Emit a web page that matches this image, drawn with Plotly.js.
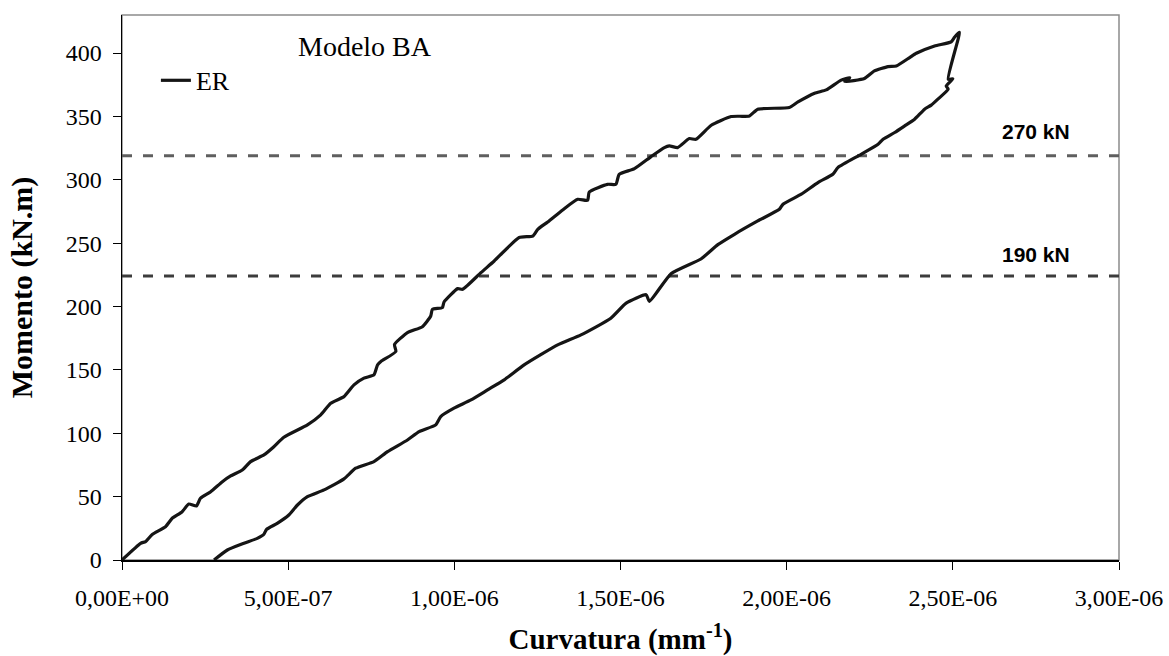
<!DOCTYPE html>
<html>
<head>
<meta charset="utf-8">
<script src="https://cdn.plot.ly/plotly-3.0.1.min.js"></script>
<style>html,body{margin:0;padding:0;background:#fff;}#chart{width:1169px;height:656px;}</style>
</head>
<body>
<div id="chart"></div>
<script>
// Loading branch (upper curve) then drop, then unloading branch (lower curve)
const curvatura = [
  0, 0.056e-6, 0.071e-6, 0.091e-6, 0.131e-6, 0.151e-6, 0.181e-6, 0.201e-6, 0.224e-6, 0.236e-6,
  0.267e-6, 0.302e-6, 0.327e-6, 0.362e-6, 0.387e-6, 0.427e-6, 0.457e-6, 0.487e-6, 0.558e-6, 0.598e-6,
  0.628e-6, 0.668e-6, 0.698e-6, 0.728e-6, 0.758e-6, 0.769e-6, 0.779e-6, 0.824e-6, 0.820e-6, 0.859e-6,
  0.904e-6, 0.929e-6, 0.934e-6, 0.964e-6, 0.969e-6, 1.010e-6, 1.025e-6, 1.080e-6, 1.120e-6, 1.195e-6,
  1.236e-6, 1.251e-6, 1.281e-6, 1.326e-6, 1.371e-6, 1.401e-6, 1.406e-6, 1.461e-6, 1.486e-6, 1.496e-6,
  1.542e-6, 1.592e-6, 1.632e-6, 1.647e-6, 1.672e-6, 1.707e-6, 1.727e-6, 1.773e-6, 1.833e-6, 1.888e-6,
  1.913e-6, 2.008e-6, 2.034e-6, 2.084e-6, 2.119e-6, 2.164e-6, 2.190e-6, 2.175e-6, 2.234e-6, 2.264e-6,
  2.305e-6, 2.330e-6, 2.370e-6, 2.390e-6, 2.445e-6, 2.495e-6, 2.505e-6, 2.520e-6,
  2.486e-6, 2.500e-6, 2.480e-6, 2.486e-6, 2.455e-6, 2.435e-6, 2.415e-6, 2.385e-6, 2.355e-6, 2.325e-6,
  2.290e-6, 2.275e-6, 2.224e-6, 2.154e-6, 2.139e-6, 2.094e-6, 2.044e-6, 1.989e-6, 1.978e-6, 1.913e-6,
  1.843e-6, 1.793e-6, 1.742e-6, 1.652e-6, 1.587e-6, 1.577e-6, 1.517e-6, 1.471e-6, 1.381e-6, 1.311e-6,
  1.210e-6, 1.150e-6, 1.100e-6, 1.050e-6, 0.999e-6, 0.959e-6, 0.944e-6, 0.894e-6, 0.859e-6, 0.799e-6,
  0.758e-6, 0.703e-6, 0.668e-6, 0.608e-6, 0.558e-6, 0.528e-6, 0.502e-6, 0.467e-6, 0.435e-6, 0.427e-6,
  0.407e-6, 0.367e-6, 0.317e-6, 0.277e-6
];
const momento = [
  0, 13.2, 14.5, 20.1, 26.3, 32.9, 38.1, 44.2, 42.6, 48.7,
  53.9, 61.8, 66.3, 71.0, 77.6, 82.9, 89.4, 96.9, 106.6, 114.5,
  123.7, 128.9, 138.2, 143.5, 146.1, 154.0, 156.6, 164.5, 170.0, 179.4,
  184.1, 192.5, 197.8, 199.1, 203.6, 214.1, 213.6, 226.7, 235.9, 254.4,
  255.6, 260.9, 266.7, 276.2, 284.6, 283.8, 290.4, 296.4, 296.4, 304.3,
  308.8, 318.3, 325.4, 326.7, 325.4, 332.5, 331.9, 343.0, 349.9, 350.4,
  355.7, 357.0, 361.4, 368.3, 370.9, 378.6, 380.5, 377.5, 379.9, 385.9,
  389.3, 389.8, 396.4, 399.8, 405.6, 408.8, 412.4, 416.3,
  379.3, 379.6, 374.0, 371.5, 363.6, 358.9, 355.7, 347.8, 342.5, 337.3,
  332.0, 328.0, 320.1, 309.6, 304.3, 297.8, 288.6, 280.7, 276.7, 267.5,
  257.0, 248.8, 237.5, 225.9, 204.1, 209.3, 202.7, 190.8, 177.6, 169.7,
  153.9, 142.1, 134.2, 126.3, 119.8, 113.2, 106.6, 101.3, 94.7, 85.5,
  77.6, 72.4, 64.0, 55.3, 50.0, 43.4, 35.5, 28.9, 24.2, 20.3,
  17.1, 13.2, 7.9, 0
];
const nivel270 = 319;
const nivel190 = 224;
const xTickVals = [0, 0.5e-6, 1.0e-6, 1.5e-6, 2.0e-6, 2.5e-6, 3.0e-6];
const xTickText = ["0,00E+00", "5,00E-07", "1,00E-06", "1,50E-06", "2,00E-06", "2,50E-06", "3,00E-06"];
const yTickVals = [0, 50, 100, 150, 200, 250, 300, 350, 400];
const xRange = [0, 3.0e-6];

const serif = "Liberation Serif, Times New Roman, serif";
const sans = "Liberation Sans, Arial, sans-serif";

const traces = [
  {x: xRange, y: [nivel270, nivel270], mode: "lines", showlegend: false, hoverinfo: "skip",
   line: {color: "#5f5f5f", width: 3, dash: "10px,11px"}},
  {x: xRange, y: [nivel190, nivel190], mode: "lines", showlegend: false, hoverinfo: "skip",
   line: {color: "#3c3c3c", width: 3, dash: "10px,11px"}},
  {x: curvatura, y: momento, mode: "lines", name: "ER",
   line: {color: "#151515", width: 3.2, shape: "spline", smoothing: 0.5}}
];

const layout = {
  width: 1169, height: 656,
  margin: {l: 122, r: 50, t: 15, b: 96},
  paper_bgcolor: "#fff", plot_bgcolor: "#fff",
  showlegend: true,
  legend: {x: 0.034, y: 0.88, xanchor: "left", yanchor: "middle", bgcolor: "rgba(0,0,0,0)",
           font: {family: serif, size: 26, color: "#000"}, itemwidth: 30, tracegroupgap: 0},
  xaxis: {
    range: xRange, tickmode: "array", tickvals: xTickVals, ticktext: xTickText,
    showgrid: false, zeroline: false, showline: true, linecolor: "#000", linewidth: 1.5,
    ticks: "outside", ticklen: 8, tickcolor: "#000", tickwidth: 1, ticklabelstandoff: 8,
    tickfont: {family: serif, size: 24, color: "#000"},
    title: {text: "<b>Curvatura (mm<sup>-1</sup>)</b>", font: {family: serif, size: 29, color: "#000"}, standoff: 18}
  },
  yaxis: {
    range: [0, 430], tickmode: "array", tickvals: yTickVals,
    showgrid: false, zeroline: false, showline: true, linecolor: "#000", linewidth: 1.5,
    ticks: "outside", ticklen: 8, tickcolor: "#000", tickwidth: 1, ticklabelstandoff: 6,
    tickfont: {family: serif, size: 24, color: "#000"},
    title: {text: "<b>Momento (kN.m)</b>", font: {family: serif, size: 30, color: "#000"}, standoff: 24}
  },
  shapes: [
    {type: "rect", xref: "paper", yref: "paper", x0: 0, x1: 1, y0: 0, y1: 1,
     line: {color: "#8c8c8c", width: 1.5}, fillcolor: "rgba(0,0,0,0)", layer: "below"}
  ],
  annotations: [
    {x: 0.244, y: 0.943, xref: "paper", yref: "paper", text: "Modelo BA", showarrow: false,
     xanchor: "center", yanchor: "middle", font: {family: serif, size: 28, color: "#000"}},
    {x: 0.917, y: nivel270, xref: "paper", yref: "y", yshift: 24, text: "<b>270 kN</b>", showarrow: false,
     xanchor: "center", yanchor: "middle", font: {family: sans, size: 21, color: "#000"}},
    {x: 0.917, y: nivel190, xref: "paper", yref: "y", yshift: 22, text: "<b>190 kN</b>", showarrow: false,
     xanchor: "center", yanchor: "middle", font: {family: sans, size: 21, color: "#000"}}
  ]
};

Plotly.newPlot("chart", traces, layout, {staticPlot: true, displayModeBar: false});
</script>
</body>
</html>
